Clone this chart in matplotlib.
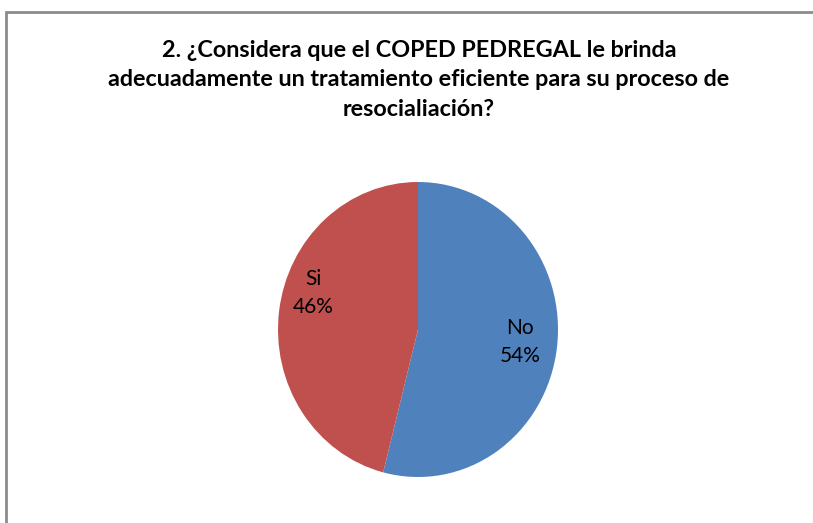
import matplotlib.pyplot as plt
from matplotlib.patches import Rectangle

labels = ["No", "Si"]
values = [54, 46]
colors = ["#4F81BD", "#C0504D"]
title = ("2. ¿Considera que el COPED PEDREGAL le brinda\n"
         "adecuadamente un tratamiento eficiente para su proceso de\n"
         "resocialiación?")

W, H = 813, 523
fig = plt.figure(figsize=(W / 100, H / 100), dpi=100)
fig.patch.set_facecolor("white")

# chart border (gray frame, cut off at right and bottom)
fig.patches.append(Rectangle((6 / W, -0.1), 1.2, 1 - 12 / H + 0.1, transform=fig.transFigure,
                             fill=False, edgecolor="#8c8c8c", linewidth=2))

fig.text(419 / W, 1 - 80 / H, title, ha="center", va="center", fontsize=16.8,
         fontweight="bold", family="Lato", linespacing=1.48, color="black")

# pie area (slightly taller than wide, as in the source)
ax = fig.add_axes([278 / W, 1 - 477 / H, 280 / W, 295 / H])
wedges, texts = ax.pie(values, colors=colors, startangle=90, counterclock=False,
                       wedgeprops=dict(linewidth=0))
ax.set_aspect("auto")
ax.set_xlim(-1, 1)
ax.set_ylim(-1, 1)

label_pos = {"No": (520, 342), "Si": (313, 293)}
for lab, v in zip(labels, values):
    px, py = label_pos[lab]
    fig.text(px / W, 1 - py / H, f"{lab}\n{v}%", ha="center", va="center",
             fontsize=15, family="Lato", linespacing=1.45, color="black")

fig.savefig("out.png", dpi=100)
